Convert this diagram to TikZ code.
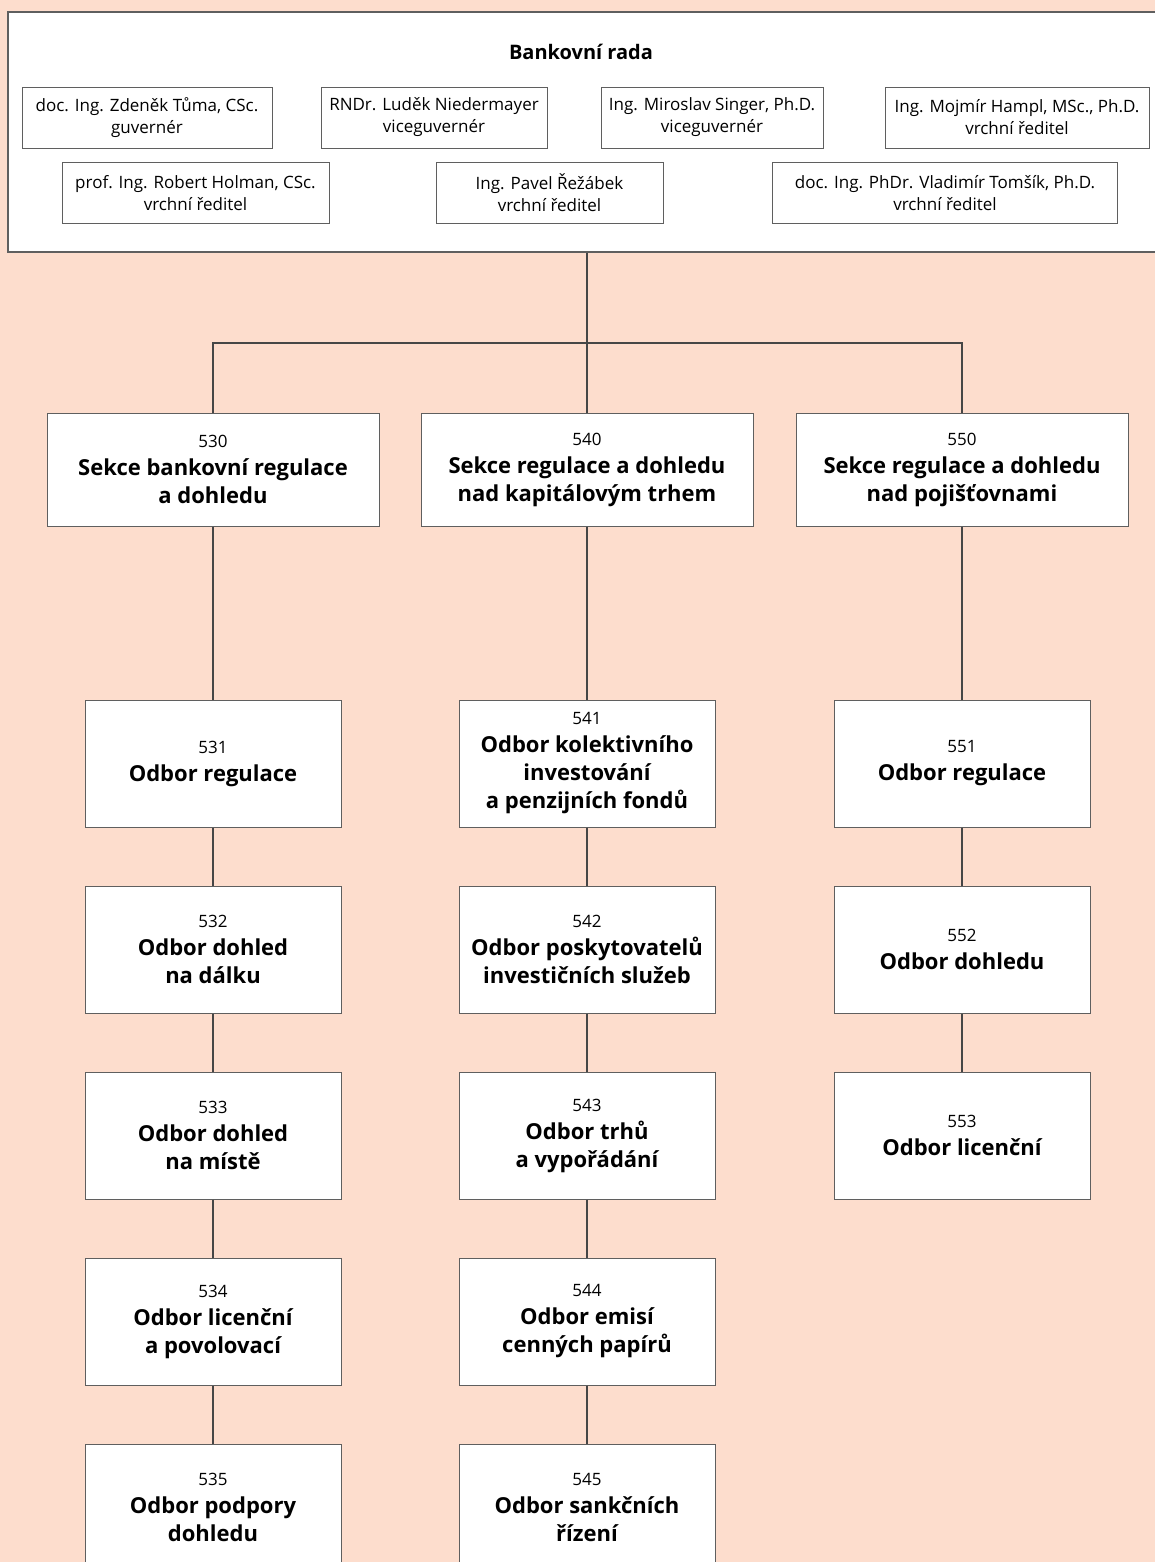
\documentclass[tikz,border=0pt]{standalone}
\usepackage{fontspec}
\setmainfont{Open Sans}
\usetikzlibrary{positioning}
\definecolor{peach}{RGB}{253,221,205}
\definecolor{linegray}{RGB}{70,70,70}
\definecolor{boxgray}{RGB}{95,95,95}
\tikzset{
  board/.style={draw=boxgray,fill=white,line width=1.2pt,minimum width=1162pt,minimum height=240pt,inner sep=0pt},
  memblk/.style={draw=boxgray,fill=white,line width=0.9pt,minimum height=61pt,inner xsep=3pt,align=center,font=\fontsize{17}{22}\selectfont},
  secblk/.style={draw=boxgray,fill=white,line width=1pt,minimum width=332pt,minimum height=113pt,align=center,font=\bfseries\fontsize{22}{28}\selectfont},
  depblk/.style={secblk,minimum width=256pt,minimum height=127pt},
  lnk/.style={draw=linegray,line width=1.1pt}
}
\newcommand{\unitno}[1]{{\mdseries\fontsize{17}{20}\selectfont #1}}

\begin{document}
\begin{tikzpicture}[x=1pt,y=-1pt,node distance=58pt]
  \fill[peach] (0,0) rectangle (1155,1562);
  \useasboundingbox (0,0) rectangle (1155,1562);

  % bankovni rada
  \node[board] (board) at (589,132) {};
  \node[font=\bfseries\fontsize{20}{24}\selectfont] (title) at (581,52) {Bankovní rada};
  \node[memblk, minimum width=250pt] (tuma) at (147,117.5) {doc. Ing. Zdeněk Tůma, CSc.\\guvernér};
  \node[memblk, minimum width=226pt] (nied) at (434,117.5) {RNDr. Luděk Niedermayer\\viceguvernér};
  \node[memblk, minimum width=222pt] (singer) at (712,117.5) {Ing. Miroslav Singer, Ph.D.\\viceguvernér};
  \node[memblk, minimum width=264pt] (hampl) at (1017,117.5) {Ing. Mojmír Hampl, MSc., Ph.D.\\vrchní ředitel};
  \node[memblk, minimum width=267pt] (holman) at (195.5,193) {prof. Ing. Robert Holman, CSc.\\vrchní ředitel};
  \node[memblk, minimum width=227pt] (rezabek) at (549.5,193) {Ing. Pavel Řežábek\\vrchní ředitel};
  \node[memblk, minimum width=345pt] (tomsik) at (945,193) {doc. Ing. PhDr. Vladimír Tomšík, Ph.D.\\vrchní ředitel};

  % sekce
  \node[secblk] (s530) at (213,469.5) {\unitno{530}\\Sekce bankovní regulace\\a dohledu};
  \node[secblk] (s540) at (587,469.5) {\unitno{540}\\Sekce regulace a dohledu\\nad kapitálovým trhem};
  \node[secblk] (s550) at (962,469.5) {\unitno{550}\\Sekce regulace a dohledu\\nad pojišťovnami};

  % odbory
  \node[depblk] (d531) at (213,763.5) {\unitno{531}\\Odbor regulace};
  \node[depblk, below=of d531] (d532) {\unitno{532}\\Odbor dohled\\na dálku};
  \node[depblk, below=of d532] (d533) {\unitno{533}\\Odbor dohled\\na místě};
  \node[depblk, below=of d533] (d534) {\unitno{534}\\Odbor licenční\\a povolovací};
  \node[depblk, below=of d534] (d535) {\unitno{535}\\Odbor podpory\\dohledu};

  \node[depblk] (d541) at (587,763.5) {\unitno{541}\\Odbor kolektivního\\investování\\a penzijních fondů};
  \node[depblk, below=of d541] (d542) {\unitno{542}\\Odbor poskytovatelů\\investičních služeb};
  \node[depblk, below=of d542] (d543) {\unitno{543}\\Odbor trhů\\a vypořádání};
  \node[depblk, below=of d543] (d544) {\unitno{544}\\Odbor emisí\\cenných papírů};
  \node[depblk, below=of d544] (d545) {\unitno{545}\\Odbor sankčních\\řízení};

  \node[depblk] (d551) at (962,763.5) {\unitno{551}\\Odbor regulace};
  \node[depblk, below=of d551] (d552) {\unitno{552}\\Odbor dohledu};
  \node[depblk, below=of d552] (d553) {\unitno{553}\\Odbor licenční};

  % spojnice
  \coordinate (bus) at (587,343);
  \draw[lnk] (board.south -| bus) -- (bus);
  \draw[lnk] (s530.north) |- (bus) -| (s550.north);
  \draw[lnk] (bus) -- (s540.north);
  \draw[lnk] (s530) -- (d531) (d531) -- (d532) (d532) -- (d533) (d533) -- (d534) (d534) -- (d535);
  \draw[lnk] (s540) -- (d541) (d541) -- (d542) (d542) -- (d543) (d543) -- (d544) (d544) -- (d545);
  \draw[lnk] (s550) -- (d551) (d551) -- (d552) (d552) -- (d553);
\end{tikzpicture}
\end{document}
